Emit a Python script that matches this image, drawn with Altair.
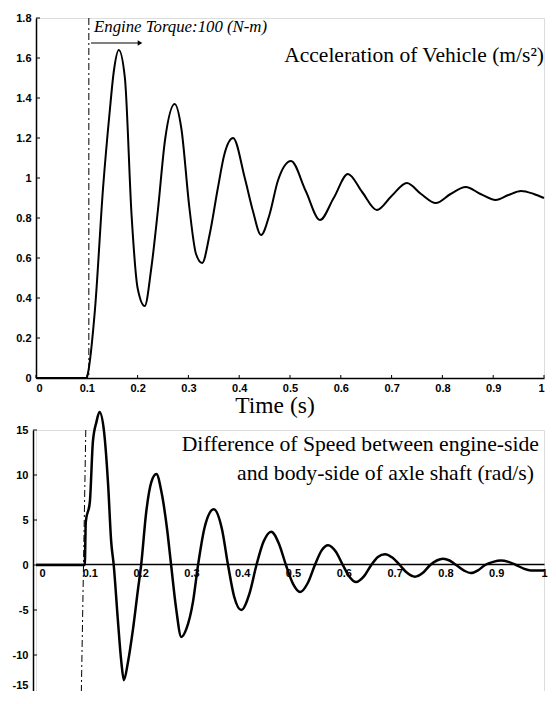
import altair as alt
import pandas as pd

# ---------------- data ----------------
# Top panel: acceleration of vehicle (m/s^2) vs time (s)
acc_t = [0.0, 0.1, 0.102, 0.116, 0.132, 0.145, 0.153, 0.163, 0.175, 0.188,
         0.200, 0.214, 0.227, 0.240, 0.254, 0.273, 0.286, 0.302, 0.315, 0.327,
         0.342, 0.358, 0.371, 0.388, 0.411, 0.427, 0.443, 0.460, 0.476, 0.502,
         0.531, 0.559, 0.586, 0.614, 0.642, 0.671, 0.700, 0.730, 0.758, 0.787,
         0.816, 0.846, 0.875, 0.905, 0.930, 0.955, 0.980, 1.0]
acc_v = [0, 0, 0.02, 0.34, 0.95, 1.33, 1.53, 1.64, 1.50, 0.82,
         0.45, 0.36, 0.55, 0.84, 1.19, 1.37, 1.25, 0.85, 0.62, 0.575,
         0.72, 0.95, 1.12, 1.20, 1.00, 0.835, 0.715, 0.82, 0.985, 1.085,
         0.935, 0.79, 0.90, 1.02, 0.93, 0.84, 0.91, 0.975, 0.92, 0.875,
         0.92, 0.955, 0.92, 0.89, 0.915, 0.935, 0.92, 0.90]

# Bottom panel: speed difference engine-side vs body-side of axle shaft (rad/s)
spd_t = [0.0, 0.096, 0.098, 0.106, 0.112, 0.119, 0.125, 0.134, 0.142, 0.148,
         0.153, 0.161, 0.168, 0.173, 0.181, 0.191, 0.201, 0.207, 0.217, 0.227,
         0.237, 0.247, 0.258, 0.266, 0.276, 0.286, 0.296, 0.309, 0.319, 0.332,
         0.350, 0.366, 0.378, 0.390, 0.404, 0.420, 0.434, 0.448, 0.463, 0.478,
         0.492, 0.506, 0.520, 0.535, 0.549, 0.562, 0.575, 0.590, 0.604, 0.617,
         0.630, 0.645, 0.660, 0.673, 0.687, 0.702, 0.716, 0.731, 0.746, 0.761,
         0.776, 0.789, 0.801, 0.814, 0.827, 0.842, 0.856, 0.870, 0.884, 0.900,
         0.915, 0.930, 0.945, 0.960, 0.974, 0.990, 1.0]
spd_v = [0, 0, 4.8, 7.0, 13.7, 15.9, 17.0, 14.8, 8.9, 2.6,
         0, -6.0, -10.8, -12.8, -10.8, -7.1, -2.6, 0, 5.9, 9.2,
         10.1, 8.1, 4.0, 0, -4.9, -8.0, -7.1, -4.1, 0, 4.2,
         6.2, 4.0, 0, -3.5, -5.0, -3.2, 0, 2.6, 3.7, 2.4,
         0, -2.1, -3.0, -2.0, 0, 1.6, 2.2, 1.5, 0, -1.3,
         -1.9, -1.3, 0, 0.9, 1.2, 0.8, 0, -0.9, -1.3, -0.9,
         0, 0.5, 0.7, 0.5, 0, -0.6, -0.9, -0.6, 0, 0.35,
         0.5, 0.35, 0, -0.4, -0.6, -0.6, -0.6]

x_ticks = [0, 0.1, 0.2, 0.3, 0.4, 0.5, 0.6, 0.7, 0.8, 0.9, 1]
acc_ticks = [0, 0.2, 0.4, 0.6, 0.8, 1, 1.2, 1.4, 1.6, 1.8]
spd_ticks = [-15, -10, -5, 0, 5, 10, 15]

title_top = "Acceleration of Vehicle (m/s\u00b2)"
title_bot1 = "Difference of Speed between engine-side"
title_bot2 = "and body-side of axle shaft (rad/s)"
x_title = "Time (s)"
torque_note = "Engine Torque:100 (N-m)"
torque_t = [0.104]
start_line_top = [1.8]
start_line_bot_t = [0.098, 0.089]
start_line_bot_v = [15, -15]

# ---------------- styling ----------------
W, H1, H2 = 508, 360, 270
LABEL_FONT = "Liberation Sans"
SERIF = "Liberation Serif, Times New Roman, serif"

acc_df = pd.DataFrame({"t": acc_t, "v": acc_v})
spd_df = pd.DataFrame({"t": spd_t, "v": spd_v})
one = pd.DataFrame({"k": [0]})

xscale = alt.Scale(domain=[0, 1], nice=False, zero=False)
yscale_top = alt.Scale(domain=[0, 1.8], nice=False, zero=False)
yscale_bot = alt.Scale(domain=[-15, 15], nice=False, zero=False)


def axis_common(**kw):
    base = dict(domainColor="black", domainWidth=1.5, ticks=False,
                labelColor="black", labelFont=LABEL_FONT, labelFontSize=11,
                labelFontWeight="bold", grid=False, labelOverlap=False,
                labelExpr="'' + datum.value", title=None)
    base.update(kw)
    return alt.Axis(**base)


ax_x_top = axis_common(values=x_ticks, labelPadding=4)
ax_y_top = axis_common(values=acc_ticks, labelPadding=5)
ax_x_bot = axis_common(values=x_ticks, labelPadding=3, offset=-136, labelOffset=3)
ax_y_bot = axis_common(values=spd_ticks, labelPadding=5, offset=3,
                       labelOffset={"condition": {"test": "datum.value == -15", "value": -15},
                                    "value": 0})

X_TOP = alt.X("t:Q", scale=xscale, axis=ax_x_top)
Y_TOP = alt.Y("v:Q", scale=yscale_top, axis=ax_y_top)
X_BOT = alt.X("t:Q", scale=xscale, axis=ax_x_bot)
Y_BOT = alt.Y("v:Q", scale=yscale_bot, axis=ax_y_bot)

# ---------------- top panel ----------------
top_line = alt.Chart(acc_df).mark_line(
    color="black", strokeWidth=2, interpolate="monotone", strokeJoin="round"
).encode(x=X_TOP, y=Y_TOP)

top_xticks = alt.Chart(pd.DataFrame({"t": x_ticks})).mark_rule(
    color="black", strokeWidth=1
).encode(x=X_TOP, y=alt.value(H1 - 3), y2=alt.value(H1))

top_yticks = alt.Chart(pd.DataFrame({"v": acc_ticks})).mark_rule(
    color="black", strokeWidth=1
).encode(y=Y_TOP, x=alt.value(0), x2=alt.value(4))

top_start = alt.Chart(pd.DataFrame({"t": torque_t, "v": start_line_top})).mark_rule(
    color="black", strokeWidth=1, strokeDash=[7, 3, 2, 3]
).encode(x=X_TOP, y=Y_TOP, y2=alt.datum(0))

top_arrow = alt.Chart(one).mark_rule(color="black", strokeWidth=1).encode(
    x=alt.value(55), x2=alt.value(103), y=alt.value(25))
top_arrowhead = alt.Chart(one).mark_point(
    shape="triangle-right", filled=True, color="black", size=28, opacity=1
).encode(x=alt.value(104), y=alt.value(25))

top_note = alt.Chart(one).mark_text(
    text=torque_note, font=SERIF, fontSize=16.8, fontStyle="italic",
    align="left", baseline="middle", color="black"
).encode(x=alt.value(58), y=alt.value(9))

top_title = alt.Chart(one).mark_text(
    text=title_top, font=SERIF, fontSize=21.5, align="right",
    baseline="middle", color="black"
).encode(x=alt.value(W), y=alt.value(38))

top_xtitle = alt.Chart(one).mark_text(
    text=x_title, font=SERIF, fontSize=23.5, align="center",
    baseline="middle", color="black"
).encode(x=alt.value(239), y=alt.value(388))

top = alt.layer(top_line, top_xticks, top_yticks, top_start, top_arrow,
                top_arrowhead, top_note, top_title, top_xtitle
                ).properties(width=W, height=H1)

# ---------------- bottom panel ----------------
bot_line = alt.Chart(spd_df).mark_line(
    color="black", strokeWidth=2.5, interpolate="monotone", strokeJoin="round"
).encode(x=X_BOT, y=Y_BOT)

bot_yticks = alt.Chart(pd.DataFrame({"v": spd_ticks})).mark_rule(
    color="black", strokeWidth=1
).encode(y=Y_BOT, x=alt.value(-3), x2=alt.value(1))

bot_start = alt.Chart(pd.DataFrame({"t": [start_line_bot_t[0]], "t2": [start_line_bot_t[1]],
                                    "v": [start_line_bot_v[0]], "v2": [start_line_bot_v[1]]})
                      ).mark_rule(color="black", strokeWidth=1, strokeDash=[7, 3, 2, 3]
                      ).encode(x=X_BOT, x2="t2:Q", y=Y_BOT, y2="v2:Q")

bot_title1 = alt.Chart(one).mark_text(
    text=title_bot1, font=SERIF, fontSize=21.7, align="right",
    baseline="middle", color="black"
).encode(x=alt.value(503), y=alt.value(14))
bot_title2 = alt.Chart(one).mark_text(
    text=title_bot2, font=SERIF, fontSize=21.7, align="right",
    baseline="middle", color="black"
).encode(x=alt.value(498), y=alt.value(43))

bottom = alt.layer(bot_line, bot_yticks, bot_start, bot_title1, bot_title2
                   ).properties(width=W, height=H2)

chart = alt.vconcat(top, bottom, spacing=52, bounds="flush").properties(
    padding={"left": 3, "top": 3, "right": 0, "bottom": -10}
).configure_view(stroke=None).configure(background="white")

chart.save("out.html", embed_options={"renderer": "svg", "actions": False})
